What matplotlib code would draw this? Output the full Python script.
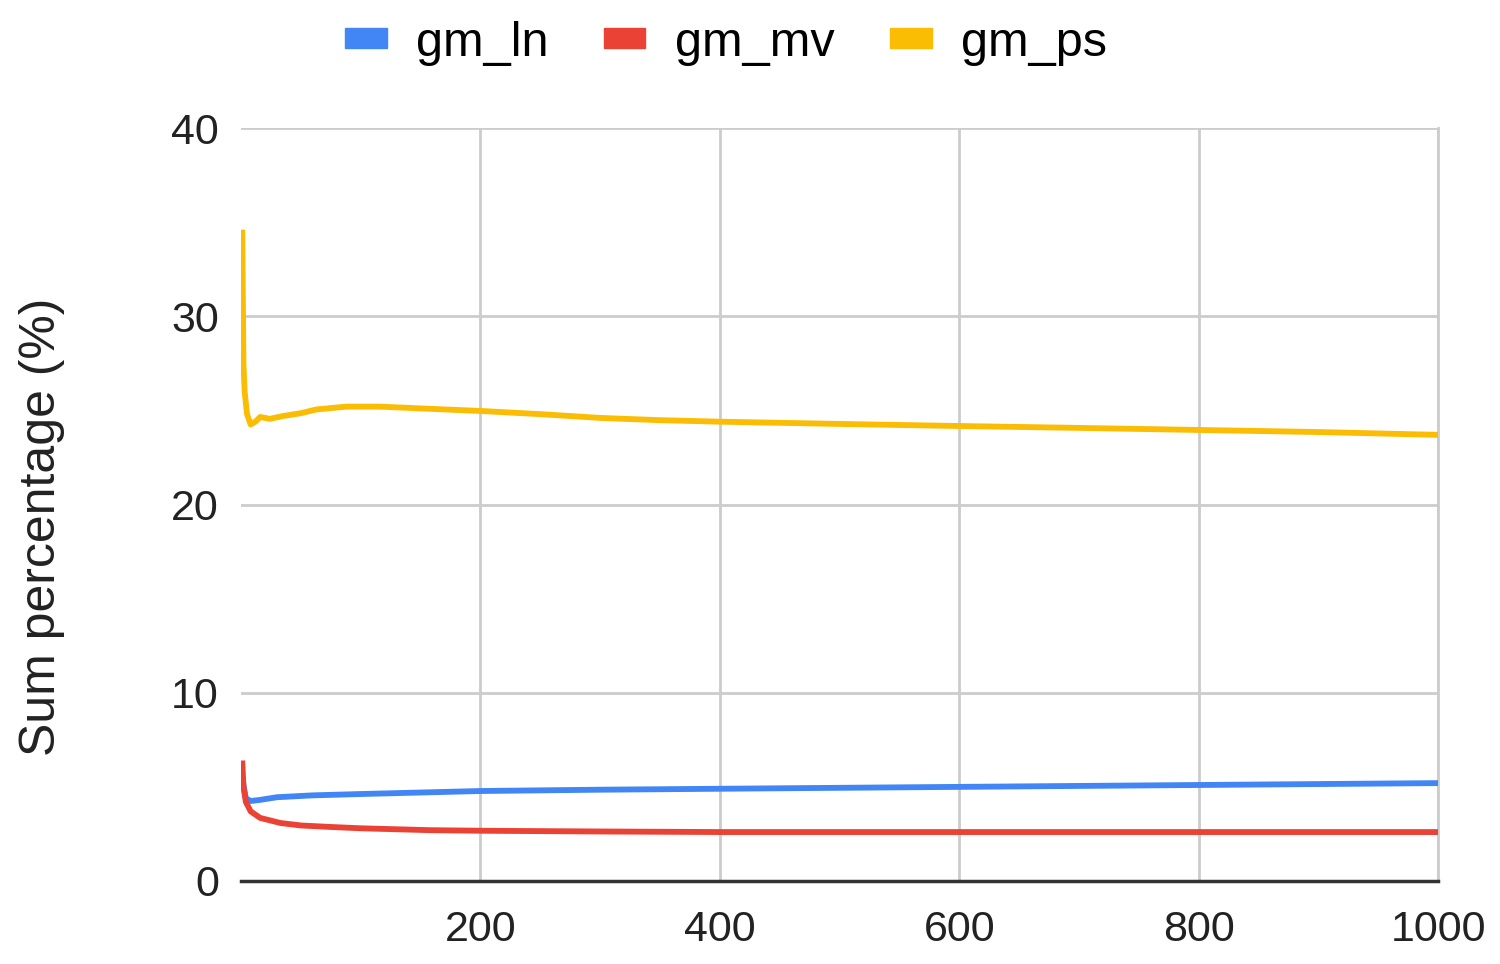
import matplotlib
matplotlib.use("Agg")
import matplotlib.pyplot as plt
from matplotlib.patches import Patch

plt.rcParams["font.family"] = ["Liberation Sans", "DejaVu Sans"]

# values
ln_x = [1, 4, 8, 15, 30, 60, 100, 150, 200, 300, 400, 500, 600, 700, 800, 900, 1000]
ln_y = [5.5, 4.4, 4.25, 4.3, 4.45, 4.55, 4.62, 4.7, 4.78, 4.85, 4.9, 4.95,
        5.0, 5.05, 5.1, 5.15, 5.2]

mv_x = [1, 2, 4, 8, 16, 33, 50, 75, 100, 158, 200, 300, 400, 600, 800, 1000]
mv_y = [6.4, 5.0, 4.2, 3.7, 3.35, 3.08, 2.95, 2.87, 2.8, 2.7, 2.67, 2.63,
        2.6, 2.6, 2.6, 2.6]

ps_x = [1, 2, 3, 5, 8, 12, 16, 24, 35, 50, 63, 88, 116, 152, 200, 250, 300,
        350, 400, 500, 600, 700, 800, 900, 1000]
ps_y = [34.6, 27.5, 26.0, 24.8, 24.25, 24.4, 24.65, 24.55, 24.7, 24.85, 25.05,
        25.2, 25.2, 25.1, 24.97, 24.8, 24.6, 24.48, 24.4, 24.28, 24.17, 24.07,
        23.96, 23.85, 23.7]

series = [("gm_ln", ln_x, ln_y, "#4285F4"),
          ("gm_mv", mv_x, mv_y, "#EA4335"),
          ("gm_ps", ps_x, ps_y, "#FBBC04")]

fig = plt.figure(figsize=(15, 9.64), dpi=100)
ax = fig.add_axes([0.1607, 0.0861, 0.798, 0.7811])

for name, xs, ys, col in series:
    ax.plot(xs, ys, color=col, lw=4.2, solid_joinstyle="round",
            solid_capstyle="butt", zorder=3)

ax.set_xlim(0, 1000)
ax.set_ylim(0, 40)
ax.set_xticks([200, 400, 600, 800, 1000])
ax.set_yticks([0, 10, 20, 30, 40])
ax.grid(True, color="#cccccc", lw=2)
ax.tick_params(length=0, labelsize=31, colors="#222222", pad=16)
ax.tick_params(axis="x", pad=21)
for s in ["top", "left"]:
    ax.spines[s].set_visible(False)
ax.spines["right"].set_color("#cccccc")
ax.spines["right"].set_linewidth(2)
ax.spines["bottom"].set_color("#333333")
ax.spines["bottom"].set_linewidth(2.5)
ax.spines["bottom"].set_zorder(4)

ax.set_ylabel("Sum percentage (%)", fontsize=36, color="#222222")
ax.yaxis.set_label_coords(-0.147, 0.47)

handles = [Patch(color=c, label=n) for n, _, _, c in series]
fig.legend(handles=handles, loc="center", bbox_to_anchor=(0.484, 0.955),
           ncol=3, frameon=False, fontsize=35, handlelength=0.85,
           handleheight=0.25, columnspacing=1.15, handletextpad=0.6)

fig.savefig("out.png")
